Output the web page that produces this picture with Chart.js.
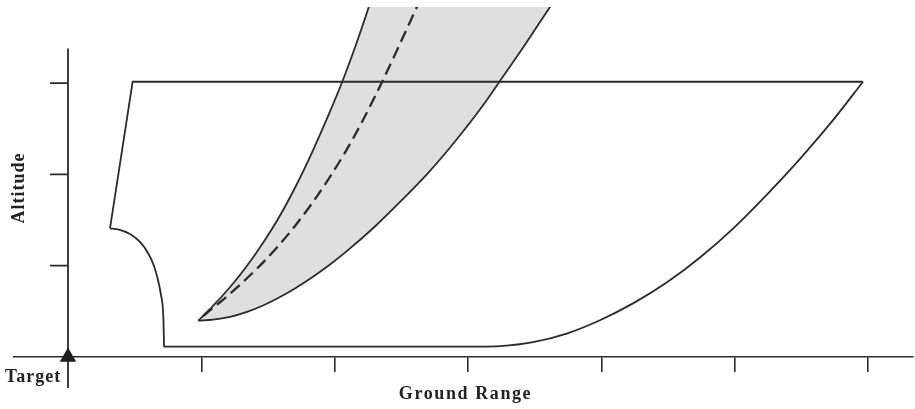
<!DOCTYPE html>
<html><head><meta charset="utf-8">
<script src="https://cdn.jsdelivr.net/npm/chart.js@4.4.0/dist/chart.umd.min.js"></script>
<style>html,body{margin:0;padding:0;background:#fff;} canvas{display:block;}</style>
</head><body>
<canvas id="c" width="915" height="409"></canvas>
<script>
// ---- data (x: ground range units, y: altitude units) ----
const xTicks = [1, 2, 3, 4, 5, 6];
const yTicks = [1, 2, 3];
const xTitle = 'Ground Range';
const yTitle = 'Altitude';
const targetLabel = 'Target';
const targetPoint = [{x: 0, y: 0}];

// envelope: straight edges (left slope + top)
const envelopeStraight = [
  {x: 0.315, y: 1.410}, {x: 0.485, y: 3.015}, {x: 5.9625, y: 3.015}
];
// envelope: lower-left curve
const envelopeLeft = [
  {x: 0.315, y: 1.410}, {x: 0.375, y: 1.397}, {x: 0.465, y: 1.347}, {x: 0.540, y: 1.260},
  {x: 0.600, y: 1.139}, {x: 0.645, y: 0.997}, {x: 0.675, y: 0.843}, {x: 0.6975, y: 0.679},
  {x: 0.7125, y: 0.515}, {x: 0.717, y: 0.350}, {x: 0.720, y: 0.113}
];
// envelope: bottom and right curve
const envelopeRight = [
  {x: 0.720, y: 0.113}, {x: 3.090, y: 0.113}, {x: 3.240, y: 0.118}, {x: 3.4875, y: 0.162},
  {x: 3.740, y: 0.257}, {x: 3.990, y: 0.403}, {x: 4.2375, y: 0.587}, {x: 4.490, y: 0.816},
  {x: 4.740, y: 1.090}, {x: 4.9875, y: 1.407}, {x: 5.240, y: 1.777}, {x: 5.490, y: 2.171},
  {x: 5.7375, y: 2.594}, {x: 5.9625, y: 3.015}
];
// shaded band: left edge, right edge, dashed centre
const shadeLeft = [
  {x: 0.977, y: 0.398}, {x: 1.0875, y: 0.559}, {x: 1.216, y: 0.767}, {x: 1.336, y: 0.986},
  {x: 1.467, y: 1.260}, {x: 1.588, y: 1.544}, {x: 1.713, y: 1.884}, {x: 1.835, y: 2.256},
  {x: 1.9605, y: 2.673}, {x: 2.059, y: 3.023}, {x: 2.1615, y: 3.428}, {x: 2.256, y: 3.834},
  {x: 2.280, y: 3.943}
];
const shadeRight = [
  {x: 0.977, y: 0.398}, {x: 1.0875, y: 0.409}, {x: 1.215, y: 0.440}, {x: 1.3425, y: 0.494},
  {x: 1.4625, y: 0.564}, {x: 1.590, y: 0.657}, {x: 1.714, y: 0.762}, {x: 1.8375, y: 0.880},
  {x: 1.965, y: 1.013}, {x: 2.091, y: 1.159}, {x: 2.306, y: 1.435}, {x: 2.505, y: 1.720},
  {x: 2.700, y: 2.015}, {x: 2.850, y: 2.267}, {x: 2.989, y: 2.519}, {x: 3.120, y: 2.771},
  {x: 3.240, y: 3.023}, {x: 3.431, y: 3.428}, {x: 3.615, y: 3.834}, {x: 3.664, y: 3.943}
];
const shadeMid = [
  {x: 1.0125, y: 0.449}, {x: 1.069, y: 0.515}, {x: 1.204, y: 0.679}, {x: 1.420, y: 0.972},
  {x: 1.572, y: 1.208}, {x: 1.698, y: 1.427}, {x: 1.830, y: 1.683}, {x: 1.9575, y: 1.957},
  {x: 2.074, y: 2.231}, {x: 2.200, y: 2.560}, {x: 2.359, y: 3.023}, {x: 2.4855, y: 3.417},
  {x: 2.6085, y: 3.808}, {x: 2.651, y: 3.943}
];

// ---- styles ----
const INK = '#2b2b2b';
const SHADE = '#dfdfdf';

const shadePolygon = shadeLeft.concat(shadeRight.slice().reverse());

const lineBase = {showLine: true, pointRadius: 0, borderColor: INK, borderWidth: 1.8, fill: false};

const axesPlugin = {
  id: 'axesText',
  afterDraw(chart) {
    const {ctx, scales: {x, y}} = chart;
    const x0 = x.getPixelForValue(0);
    ctx.save();
    ctx.strokeStyle = INK;
    ctx.lineWidth = 1.8;
    ctx.beginPath();
    ctx.moveTo(x0, y.getPixelForValue(3.38));
    ctx.lineTo(x0, y.getPixelForValue(-0.34));
    yTicks.forEach(v => {
      const py = y.getPixelForValue(v);
      ctx.moveTo(x0 - 18, py);
      ctx.lineTo(x0, py);
    });
    ctx.stroke();
    // target marker (triangle)
    targetPoint.forEach(p => {
      const px = x.getPixelForValue(p.x), py = y.getPixelForValue(p.y);
      const r = 9.5;
      ctx.beginPath();
      ctx.moveTo(px, py - r);
      ctx.lineTo(px + r * 0.866, py + r / 2);
      ctx.lineTo(px - r * 0.866, py + r / 2);
      ctx.closePath();
      ctx.fillStyle = '#1e1e1e';
      ctx.fill();
    });
    ctx.fillStyle = '#222';
    ctx.font = 'bold 18px "Liberation Serif"';
    ctx.textBaseline = 'alphabetic';
    try { ctx.letterSpacing = '1.6px'; } catch (e) {}
    ctx.textAlign = 'center';
    ctx.fillText(xTitle, (chart.chartArea.left + chart.chartArea.right) / 2 + 2, 399);
    try { ctx.letterSpacing = '1px'; } catch (e) {}
    ctx.textAlign = 'left';
    ctx.fillText(targetLabel, 5, 382);
    ctx.translate(24, 188);
    ctx.rotate(-Math.PI / 2);
    ctx.textAlign = 'center';
    ctx.fillText(yTitle, 0, 0);
    ctx.restore();
  }
};

new Chart(document.getElementById('c'), {
  type: 'scatter',
  data: {
    datasets: [
      Object.assign({}, lineBase, {data: envelopeStraight, tension: 0}),
      Object.assign({}, lineBase, {data: envelopeLeft, cubicInterpolationMode: 'monotone'}),
      Object.assign({}, lineBase, {data: envelopeRight, cubicInterpolationMode: 'monotone'}),
      Object.assign({}, lineBase, {data: shadeMid, cubicInterpolationMode: 'monotone', borderWidth: 2.3, borderDash: [12, 6]}),
      Object.assign({}, lineBase, {data: shadeLeft, cubicInterpolationMode: 'monotone'}),
      Object.assign({}, lineBase, {data: shadeRight, cubicInterpolationMode: 'monotone'}),
      Object.assign({}, lineBase, {data: shadePolygon, tension: 0, borderWidth: 0, borderColor: 'rgba(0,0,0,0)',
        backgroundColor: SHADE, fill: 'shape'})
    ]
  },
  options: {
    responsive: false,
    animation: false,
    events: [],
    layout: {padding: {left: 14, right: 2, top: 7, bottom: 37}},
    plugins: {legend: {display: false}, tooltip: {enabled: false}},
    scales: {
      x: {
        type: 'linear', min: -0.405, max: 6.3375,
        afterBuildTicks: s => { s.ticks = xTicks.map(v => ({value: v})); },
        ticks: {display: false},
        grid: {display: true, drawOnChartArea: false, drawTicks: true, tickLength: 15, color: INK, lineWidth: 1.6},
        border: {display: true, color: INK, width: 1.6}
      },
      y: {
        type: 'linear', min: 0, max: 3.8335, display: false,
        afterBuildTicks: s => { s.ticks = yTicks.map(v => ({value: v})); }
      }
    }
  },
  plugins: [axesPlugin]
});
</script>
</body></html>
